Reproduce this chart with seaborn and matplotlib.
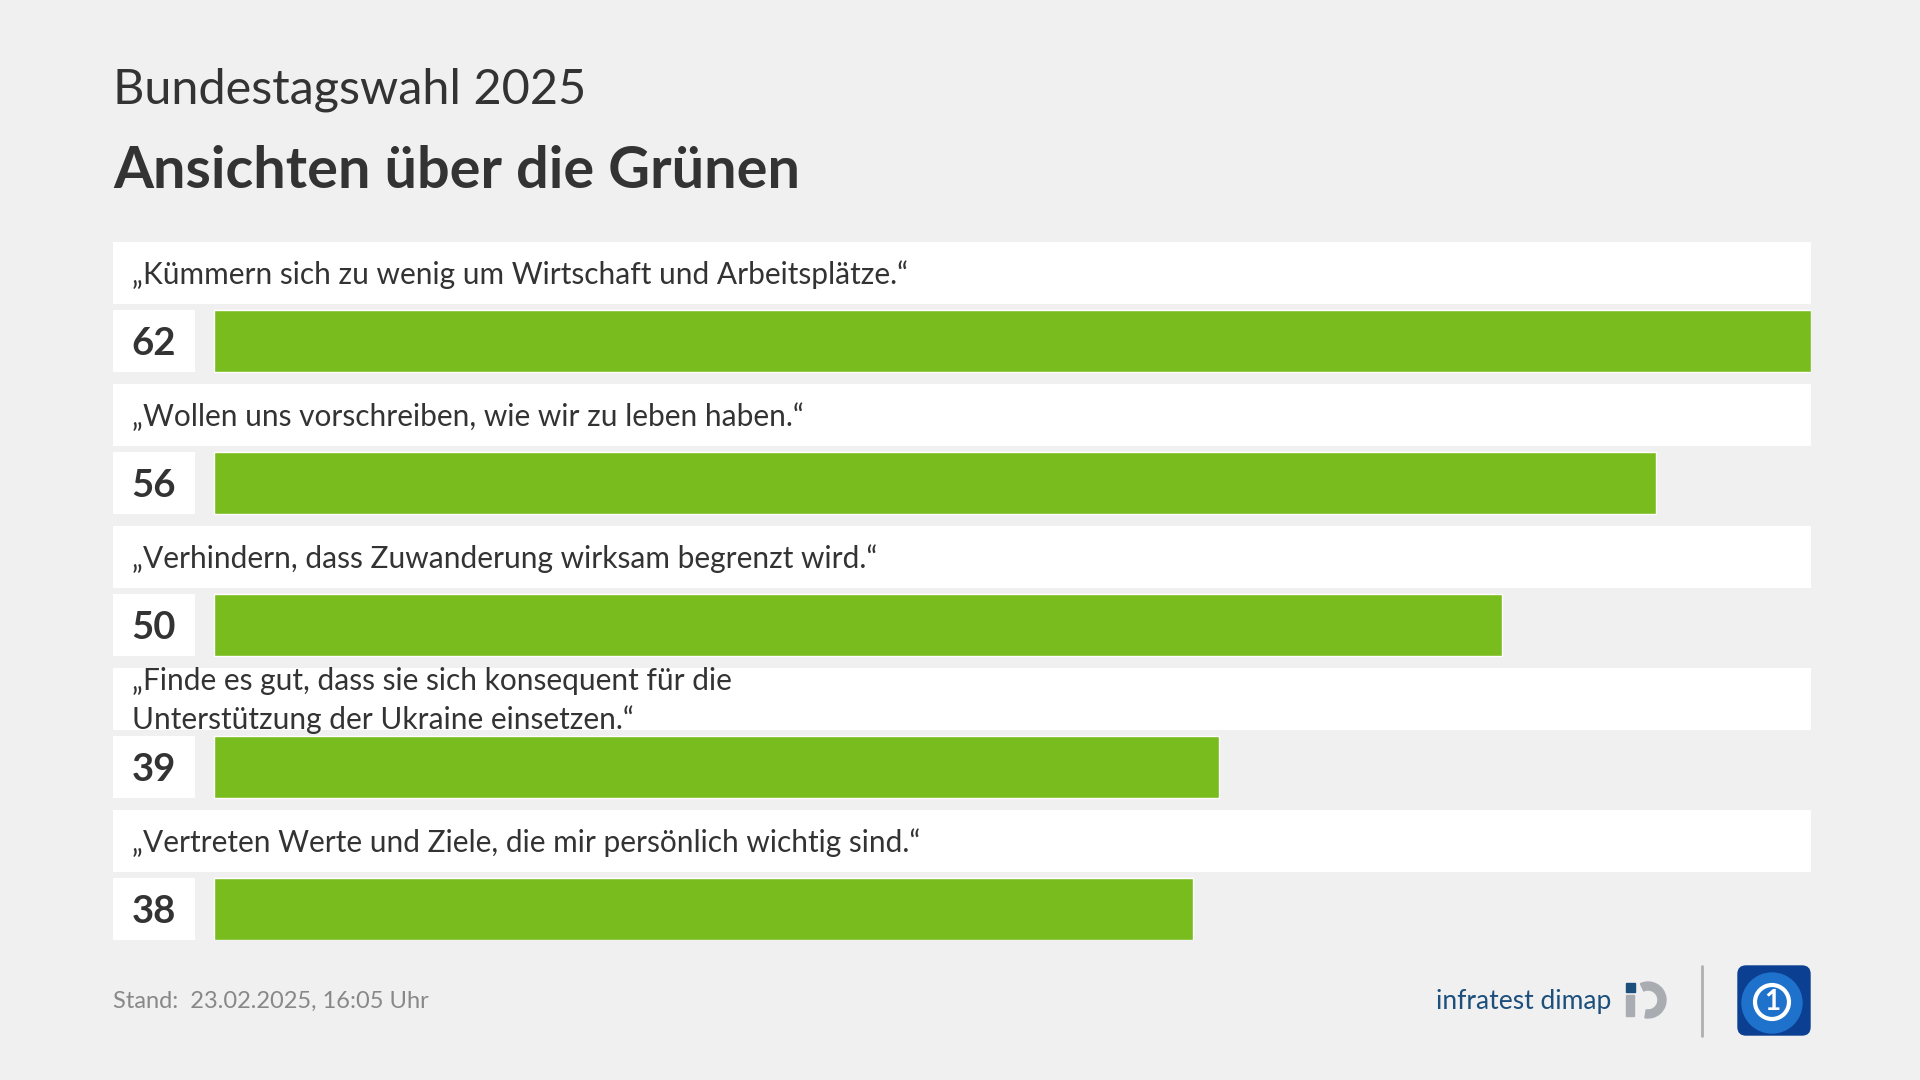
import matplotlib
matplotlib.use("Agg")
import matplotlib.pyplot as plt
import matplotlib.patches as mpatches
import seaborn as sns
import pandas as pd

statements = [
    "„Kümmern sich zu wenig um Wirtschaft und Arbeitsplätze.“",
    "„Wollen uns vorschreiben, wie wir zu leben haben.“",
    "„Verhindern, dass Zuwanderung wirksam begrenzt wird.“",
    "„Finde es gut, dass sie sich konsequent für die\nUnterstützung der Ukraine einsetzen.“",
    "„Vertreten Werte und Ziele, die mir persönlich wichtig sind.“",
]
values = [62, 56, 50, 39, 38]

subtitle = "Bundestagswahl 2025"
title = "Ansichten über die Grünen"
footer = "Stand:  23.02.2025, 16:05 Uhr"

BG = "#f0f0f0"
GREEN = "#78bc1e"
TXT = "#333333"
FONT = "Lato"

W, H = 1920, 1080
sns.set_theme(style="white")
plt.rcParams["font.family"] = [FONT, "DejaVu Sans"]

fig = plt.figure(figsize=(19.2, 10.8), dpi=100, facecolor=BG)

# layout in pixels
left, right = 113, 1811
bar_x0 = 214
top, bottom = 242, 940
bar_h = 0.435         # in row units (1 row = ~142 px)
band_off = 0.479      # distance bar centre -> label band centre
ax = fig.add_axes([left / W, 1 - bottom / H, (right - left) / W, (bottom - top) / H])
ax.set_facecolor("none")

df = pd.DataFrame({"statement": statements, "value": values})
sns.barplot(data=df, x="value", y="statement", color=GREEN, saturation=1,
            width=bar_h, orient="h", ax=ax, zorder=3)

vmax = max(values)
x0 = (bar_x0 - left) / (right - bar_x0) * vmax
ax.set_xlim(-x0, vmax)
n = len(values)
ax.set_ylim(n - 1 + bar_h / 2, -band_off - bar_h / 2)
ax.axis("off")

box_frac = (195 - left) / (right - left)
txt_frac = (132 - left) / (right - left)
num_frac = (154 - left) / (right - left)
tr = ax.get_yaxis_transform()
for i, (s, v) in enumerate(zip(statements, values)):
    bc = i - band_off
    ax.axhspan(bc - bar_h / 2, bc + bar_h / 2, color="white", lw=0, zorder=1)
    ax.axhspan(i - bar_h / 2, i + bar_h / 2, xmin=0, xmax=box_frac,
               color="white", lw=0, zorder=1)
    ax.text(txt_frac, bc + 0.01, s, transform=tr, ha="left", va="center",
            fontsize=21.5, color=TXT, linespacing=1.45, zorder=4)
    ax.text(num_frac, i + 0.02, str(v), transform=tr, ha="center", va="center",
            fontsize=27.5, fontweight="bold", color=TXT, zorder=4)

fig.text(left / W, 1 - 90 / H, subtitle, ha="left", va="center",
         fontsize=35, color=TXT)
fig.text(left / W, 1 - 171 / H, title, ha="left", va="center",
         fontsize=41.5, fontweight="bold", color=TXT)
fig.text(left / W, 1 - 1001 / H, footer, ha="left", va="center",
         fontsize=17, color="#888888")

# logos
fig.text(1611 / W, 1 - 1001 / H, "infratest dimap", ha="right", va="center",
         fontsize=19, color="#1d4f7c")
fig.patches.append(mpatches.Wedge((1648, H - 1000), 18, -100, 115, width=8,
                                  color="#a9adb2", transform=None, figure=fig))
fig.patches.append(mpatches.Rectangle((1626, H - 1016), 8, 21, color="#a9adb2",
                                      transform=None, figure=fig))
fig.patches.append(mpatches.Rectangle((1626, H - 992), 9, 9, color="#1d4f7c",
                                      transform=None, figure=fig))
fig.add_artist(plt.Line2D([1702 / W, 1702 / W], [1 - 966 / H, 1 - 1036 / H],
                          color="#b0b0b0", lw=2))
fig.patches.append(mpatches.FancyBboxPatch((1738, H - 1035), 72, 69,
                                           boxstyle="round,pad=0,rounding_size=8",
                                           color="#0b3f91", transform=None, figure=fig))
fig.patches.append(mpatches.Circle((1772, H - 1003), 30, color="#1f72cc",
                                   transform=None, figure=fig))
fig.patches.append(mpatches.Circle((1772, H - 1002), 17, fill=False, ec="white",
                                   lw=3, transform=None, figure=fig))
fig.text(1772 / W, 1 - 1002 / H, "1", ha="center", va="center", fontsize=20,
         fontweight="bold", color="white")

fig.savefig("out.png", dpi=100, facecolor=BG)
